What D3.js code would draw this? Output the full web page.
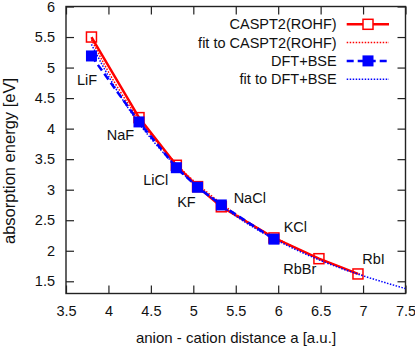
<!DOCTYPE html>
<html>
<head>
<meta charset="utf-8">
<script src="https://cdn.jsdelivr.net/npm/d3@7"></script>
<style>
  body { margin: 0; background: #fff; }
  svg text { font-family: "Liberation Sans", Arial, sans-serif; fill: #111; }
</style>
</head>
<body>
<div id="chart"></div>
<script>
// Data
const salts = ['LiF', 'NaF', 'LiCl', 'KF', 'NaCl', 'KCl', 'RbBr', 'RbI'];
const distance = [3.80, 4.36, 4.80, 5.05, 5.33, 5.95, 6.48, 6.94];
const caspt2 = [5.50, 4.18, 3.40, 3.05, 2.72, 2.21, 1.87, 1.62];
const dftBse = [5.19, 4.11, 3.36, 3.04, 2.75, 2.19];

// fitted curves
const fitX = [3.8, 4.0, 4.25, 4.5, 4.75, 5.0, 5.5, 6.0, 6.5, 7.0, 7.5];
const fitCaspt2 = [5.46, 4.93, 4.37, 3.90, 3.50, 3.15, 2.60, 2.19, 1.86, 1.60];
const fitDftBse = [5.38, 4.86, 4.30, 3.84, 3.45, 3.11, 2.57, 2.16, 1.84, 1.59, 1.38];

const xTicks = [3.5, 4, 4.5, 5, 5.5, 6, 6.5, 7, 7.5];
const yTicks = [1.5, 2, 2.5, 3, 3.5, 4, 4.5, 5, 5.5, 6];

// label anchors (data coordinates, like gnuplot "set label at")
const labelAt = [[3.63, 4.80], [3.98, 3.89], [4.41, 3.16], [4.81, 2.80],
                 [5.475, 2.87], [6.065, 2.39], [6.06, 1.71], [6.99, 1.87]];

const W = 415, H = 346;
const margin = { top: 6.5, right: 9.5, bottom: 52.5, left: 66 };

const x = d3.scaleLinear().domain([3.5, 7.5]).range([margin.left, W - margin.right]);
const y = d3.scaleLinear().domain([1.3, 6]).range([H - margin.bottom, margin.top]);

const svg = d3.select('#chart').append('svg')
  .attr('width', W)
  .attr('height', H);

const red = '#ff0000', blue = '#0000ff';
const fs = '14.5px';

// clip for the plot area
svg.append('clipPath').attr('id', 'clip')
  .append('rect')
    .attr('x', margin.left).attr('y', margin.top)
    .attr('width', W - margin.right - margin.left)
    .attr('height', H - margin.bottom - margin.top);

// Axes (ticks inward, mirrored)
const tickLen = 8;
svg.append('g')
  .attr('transform', 'translate(0,' + (H - margin.bottom) + ')')
  .call(d3.axisBottom(x).tickValues(xTicks).tickSizeInner(-tickLen).tickSizeOuter(0).tickPadding(12).tickFormat(d3.format('')))
  .call(g => g.select('.domain').remove());
svg.append('g')
  .attr('transform', 'translate(0,' + margin.top + ')')
  .call(d3.axisTop(x).tickValues(xTicks).tickSizeInner(-tickLen).tickSizeOuter(0).tickFormat(''))
  .call(g => g.select('.domain').remove());
svg.append('g')
  .attr('transform', 'translate(' + margin.left + ',0)')
  .call(d3.axisLeft(y).tickValues(yTicks).tickSizeInner(-tickLen).tickSizeOuter(0).tickPadding(11).tickFormat(d3.format('')))
  .call(g => g.select('.domain').remove());
svg.append('g')
  .attr('transform', 'translate(' + (W - margin.right) + ',0)')
  .call(d3.axisRight(y).tickValues(yTicks).tickSizeInner(-tickLen).tickSizeOuter(0).tickFormat(''))
  .call(g => g.select('.domain').remove());

svg.selectAll('.tick line').attr('stroke', '#222').attr('stroke-width', 1.2);
svg.selectAll('.tick text')
  .style('font-size', fs)
  .style('font-family', '"Liberation Sans", Arial, sans-serif')
  .attr('fill', '#111');

// frame
svg.append('rect')
  .attr('x', margin.left).attr('y', margin.top)
  .attr('width', W - margin.right - margin.left)
  .attr('height', H - margin.bottom - margin.top)
  .attr('fill', 'none')
  .attr('stroke', '#222')
  .attr('stroke-width', 1.4);

// axis titles
svg.append('text')
  .attr('x', 236)
  .attr('y', 338)
  .attr('dy', '0.35em')
  .attr('text-anchor', 'middle')
  .style('font-size', '15px')
  .text('anion - cation distance a [a.u.]');

svg.append('text')
  .attr('transform', 'translate(9,161) rotate(-90)')
  .attr('dy', '0.35em')
  .attr('text-anchor', 'middle')
  .style('font-size', '16.5px')
  .text('absorption energy [eV]');

const plot = svg.append('g').attr('clip-path', 'url(#clip)');

const line = d3.line().x(d => x(d[0])).y(d => y(d[1]));
const smooth = d3.line().x(d => x(d[0])).y(d => y(d[1])).curve(d3.curveNatural);

const caspt2Pts = distance.map((d, i) => [d, caspt2[i]]);
const bsePts = dftBse.map((v, i) => [distance[i], v]);
const fitCaspt2Pts = fitCaspt2.map((v, i) => [fitX[i], v]);
const fitBsePts = fitDftBse.map((v, i) => [fitX[i], v]);

const sq = 10, sqF = 11;

// CASPT2(ROHF)
plot.append('path')
  .attr('d', line(caspt2Pts))
  .attr('fill', 'none').attr('stroke', red).attr('stroke-width', 2.5);
plot.selectAll('.sqR')
  .data(caspt2Pts).enter().append('rect')
    .attr('class', 'sqR')
    .attr('x', d => x(d[0]) - sq / 2).attr('y', d => y(d[1]) - sq / 2)
    .attr('width', sq).attr('height', sq)
    .attr('fill', 'none').attr('stroke', red).attr('stroke-width', 1.5);

// fit to CASPT2
plot.append('path')
  .attr('d', smooth(fitCaspt2Pts))
  .attr('fill', 'none').attr('stroke', red).attr('stroke-width', 1.5)
  .attr('stroke-dasharray', '1.5,1.5');

// DFT+BSE
plot.append('path')
  .attr('d', line(bsePts))
  .attr('fill', 'none').attr('stroke', blue).attr('stroke-width', 2.5)
  .attr('stroke-dasharray', '7,4');
plot.selectAll('.sqB')
  .data(bsePts).enter().append('rect')
    .attr('class', 'sqB')
    .attr('x', d => x(d[0]) - sqF / 2).attr('y', d => y(d[1]) - sqF / 2)
    .attr('width', sqF).attr('height', sqF)
    .attr('fill', blue);

// fit to DFT+BSE
plot.append('path')
  .attr('d', smooth(fitBsePts))
  .attr('fill', 'none').attr('stroke', blue).attr('stroke-width', 1.5)
  .attr('stroke-dasharray', '1.5,1.5');

// salt labels
svg.selectAll('.salt')
  .data(salts).enter().append('text')
    .attr('class', 'salt')
    .attr('x', (d, i) => x(labelAt[i][0]))
    .attr('y', (d, i) => y(labelAt[i][1]))
    .attr('dy', '0.35em')
    .style('font-size', fs)
    .text(d => d);

// Legend
const legend = [
  { name: 'CASPT2(ROHF)', color: red, width: 2.5, dash: null, mark: 'open' },
  { name: 'fit to CASPT2(ROHF)', color: red, width: 1.5, dash: '1.5,1.5', mark: null },
  { name: 'DFT+BSE', color: blue, width: 2.5, dash: '7,4', mark: 'filled' },
  { name: 'fit to DFT+BSE', color: blue, width: 1.5, dash: '1.5,1.5', mark: null },
];
const lg = svg.selectAll('.legend')
  .data(legend).enter().append('g')
    .attr('class', 'legend')
    .attr('transform', (d, i) => 'translate(0,' + (24.3 + i * 18.3) + ')');
lg.append('text')
  .attr('x', 336.7)
  .attr('dy', '0.35em')
  .attr('text-anchor', 'end')
  .style('font-size', fs)
  .text(d => d.name);
lg.append('line')
  .attr('x1', 346.7).attr('x2', 389)
  .attr('stroke', d => d.color)
  .attr('stroke-width', d => d.width)
  .attr('stroke-dasharray', d => d.dash);
lg.filter(d => d.mark === 'open').append('rect')
  .attr('x', 368 - sq / 2).attr('y', -sq / 2)
  .attr('width', sq).attr('height', sq)
  .attr('fill', '#fff').attr('stroke', red).attr('stroke-width', 1.5);
lg.filter(d => d.mark === 'filled').append('rect')
  .attr('x', 368 - sqF / 2).attr('y', -sqF / 2)
  .attr('width', sqF).attr('height', sqF)
  .attr('fill', blue);
</script>
</body>
</html>
